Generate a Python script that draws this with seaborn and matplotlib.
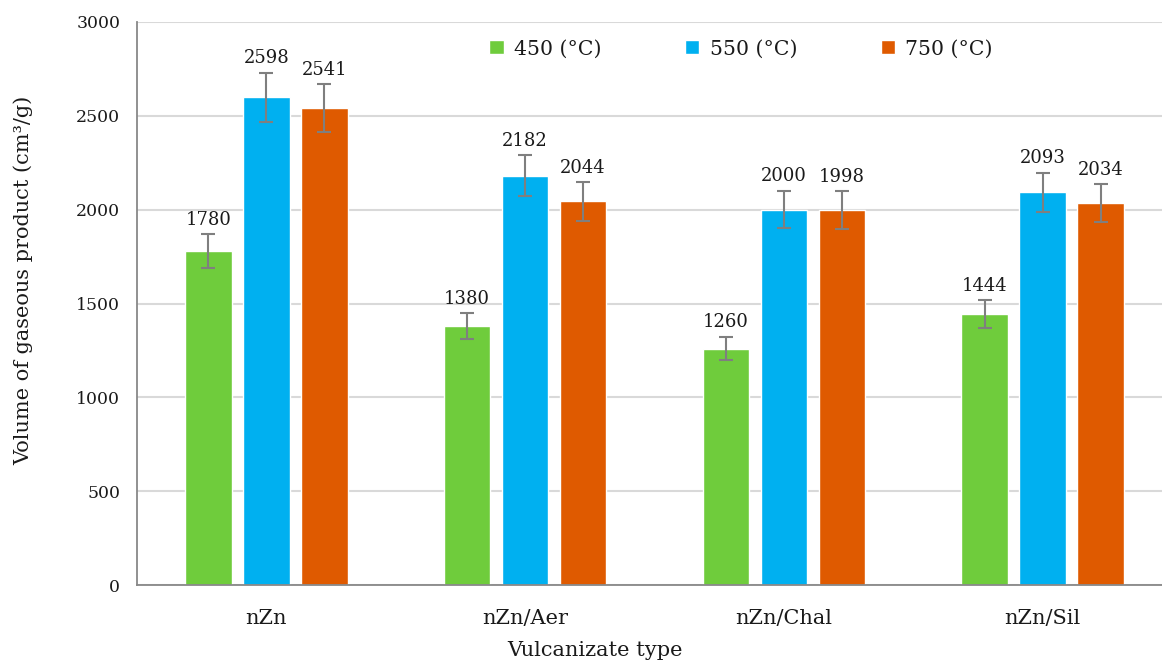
import matplotlib
matplotlib.use("Agg")
import matplotlib.pyplot as plt
import seaborn as sns
import pandas as pd

# Gaseous product volume by vulcanizate type and pyrolysis temperature
categories = ["nZn", "nZn/Aer", "nZn/Chal", "nZn/Sil"]
temperatures = ["450 (°C)", "550 (°C)", "750 (°C)"]
vol_450 = [1780, 1380, 1260, 1444]
vol_550 = [2598, 2182, 2000, 2093]
vol_750 = [2541, 2044, 1998, 2034]
err_450 = [89, 69, 63, 72]
err_550 = [130, 109, 100, 105]
err_750 = [127, 102, 100, 102]
yticks = [0, 500, 1000, 1500, 2000, 2500, 3000]

colors = ["#6FCC3C", "#00B0F0", "#DF5A00"]
text_color = "#1A1A1A"

rows = []
for temp, vals in zip(temperatures, [vol_450, vol_550, vol_750]):
    for cat, v in zip(categories, vals):
        rows.append({"type": cat, "temp": temp, "volume": v})
df = pd.DataFrame(rows)

sns.set_theme(style="white")
plt.rcParams["font.family"] = ["DejaVu Serif"]
plt.rcParams["text.color"] = text_color
plt.rcParams["axes.labelcolor"] = text_color
plt.rcParams["xtick.labelcolor"] = text_color
plt.rcParams["ytick.labelcolor"] = text_color

fig = plt.figure(figsize=(11.62, 6.66), dpi=100)
ax = fig.add_axes([137 / 1162, 81 / 666, 1035 / 1162, 563 / 666])

sns.barplot(data=df, x="type", y="volume", hue="temp", order=categories,
            hue_order=temperatures, palette=colors, width=0.672, gap=0.2,
            errorbar=None, saturation=1, ax=ax, zorder=2)

# error bars and value labels
for cont, vals, errs in zip(ax.containers, [vol_450, vol_550, vol_750],
                            [err_450, err_550, err_750]):
    for bar, v, e in zip(cont, vals, errs):
        xc = bar.get_x() + bar.get_width() / 2
        ax.errorbar(xc, v, yerr=e, fmt="none", ecolor="#7F7F7F",
                    elinewidth=1.5, capsize=5, capthick=1.5, zorder=3)
        ax.annotate(f"{v}", (xc, v + e), xytext=(0, 4),
                    textcoords="offset points", ha="center", va="bottom",
                    fontsize=13)

ax.set_ylim(0, 3000)
ax.set_xlim(-0.5, 3.5)
ax.set_yticks(yticks)
ax.set_yticklabels([str(t) for t in yticks], fontsize=12.4)
ax.yaxis.grid(True, color="#D9D9D9", linewidth=1.5, zorder=0)
ax.set_axisbelow(True)

# category boundaries carry the x tick marks
ax.set_xticks([-0.5, 0.5, 1.5, 2.5, 3.5])
ax.set_xticklabels([])
ax.set_xticks(range(len(categories)), minor=True)
ax.set_xticklabels(categories, minor=True, fontsize=15)
ax.tick_params(axis="x", which="minor", length=0, pad=17)
ax.tick_params(axis="x", which="major", length=6, width=1.2,
               color="#888888", direction="out")
ax.tick_params(axis="y", length=6, width=1.2, color="#888888",
               direction="out", pad=6)

for side in ["top", "right"]:
    ax.spines[side].set_visible(False)
for side in ["left", "bottom"]:
    ax.spines[side].set_color("#888888")
    ax.spines[side].set_linewidth(1.3)

ax.set_xlabel("Vulcanizate type", fontsize=15)
ax.set_ylabel("Volume of gaseous product (cm³/g)", fontsize=15)
ax.xaxis.set_label_coords((595 - 137) / 1035, -0.100)
ax.yaxis.set_label_coords(-0.100, (585 - 280) / 563)

handles, labels = ax.get_legend_handles_labels()
ax.legend(handles, labels, ncol=3, frameon=False, loc="upper left",
          bbox_to_anchor=(471 / 1162, 1 - 21 / 666),
          bbox_transform=fig.transFigure, handlelength=0.7, handleheight=0.7,
          handletextpad=0.5, columnspacing=4.1, fontsize=14.7)

fig.savefig("out.png", dpi=100)
